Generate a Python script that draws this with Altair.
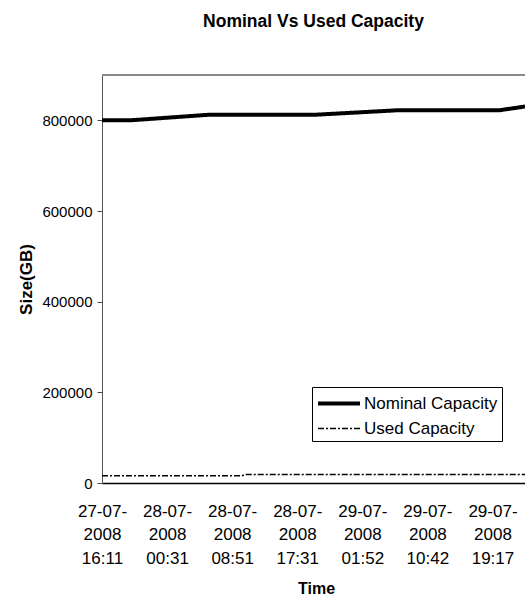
import json
import altair as alt
import pandas as pd

# x positions are category indices on the time axis (one labelled category every 10 points)
tick_index = [0, 10, 20, 30, 40, 50, 60]
tick_labels = [
    ["27-07-", "2008", "16:11"],
    ["28-07-", "2008", "00:31"],
    ["28-07-", "2008", "08:51"],
    ["28-07-", "2008", "17:31"],
    ["29-07-", "2008", "01:52"],
    ["29-07-", "2008", "10:42"],
    ["29-07-", "2008", "19:17"],
]

nominal_index = [0, 4.3, 16.6, 33, 45.8, 61.2, 65]
nominal_values = [800000, 800000, 812500, 812500, 822500, 822500, 830500]

used_index = [0, 21.5, 22, 65]
used_values = [16000, 16000, 19000, 19000]

series_names = ["Nominal Capacity", "Used Capacity"]

rows = []
for i, v in zip(nominal_index, nominal_values):
    rows.append({"idx": i, "size": v, "series": series_names[0]})
for i, v in zip(used_index, used_values):
    rows.append({"idx": i, "size": v, "series": series_names[1]})
df = pd.DataFrame(rows)

W, H = 423, 408
FONT = "Liberation Sans"

label_expr = json.dumps(tick_labels) + "[round(datum.value / 10)]"

legend_opts = dict(
    title=None,
    orient="none",
    legendX=210,
    legendY=312,
    strokeColor="black",
    padding=4,
    symbolType="M-1,0L3,0",
    symbolSize=441,
    symbolStrokeColor="black",
    labelOffset=23,
    labelFontSize=17,
    labelFont=FONT,
    labelColor="black",
    rowPadding=5,
    fillColor="white",
)

lines = alt.Chart(df).mark_line(color="black", clip=True).encode(
    x=alt.X(
        "idx:Q",
        scale=alt.Scale(domain=[0, 65], nice=False, zero=False),
        axis=alt.Axis(
            values=tick_index,
            labelExpr=label_expr,
            labelFlush=False,
            labelOverlap=False,
            labelAlign="center",
            grid=False,
            ticks=False,
            tickSize=0,
            labelPadding=20,
            labelFontSize=17,
            labelLineHeight=23.5,
            labelColor="black",
            labelFont=FONT,
            domainColor="black",
            domainWidth=1.5,
            title="Time",
            titleFont=FONT,
            titleFontSize=16,
            titleFontWeight="bold",
            titleColor="black",
            titleX=214,
            titleY=105,
            titleBaseline="middle",
        ),
    ),
    y=alt.Y(
        "size:Q",
        scale=alt.Scale(domain=[0, 900000], nice=False),
        axis=alt.Axis(
            values=[0, 200000, 400000, 600000, 800000],
            format="d",
            grid=False,
            tickSize=5,
            tickColor="#444444",
            labelPadding=5,
            labelFontSize=15,
            labelColor="black",
            labelFont=FONT,
            domainColor="#555555",
            title="Size(GB)",
            titleFont=FONT,
            titleFontSize=17,
            titleFontWeight="bold",
            titleColor="black",
            titleX=-76,
            titleY=H / 2,
            titleBaseline="middle",
        ),
    ),
    strokeDash=alt.StrokeDash(
        "series:N",
        scale=alt.Scale(domain=series_names, range=[[1, 0], [6, 2, 2, 2]]),
        legend=alt.Legend(**legend_opts),
    ),
    strokeWidth=alt.StrokeWidth(
        "series:N",
        scale=alt.Scale(domain=series_names, range=[4, 1.5]),
        legend=alt.Legend(**legend_opts),
    ),
)

top_border = alt.Chart(df).mark_rule(color="#888888", strokeWidth=1).encode(
    x=alt.value(0), x2=alt.value(W), y=alt.value(0)
)

chart = alt.layer(lines, top_border).properties(
    width=W,
    height=H,
    autosize="none",
    padding={"left": 102, "top": 75, "right": 0, "bottom": 113},
    title=alt.TitleParams(
        "Nominal Vs Used Capacity",
        font=FONT,
        fontSize=17.5,
        fontWeight="bold",
        color="black",
        anchor="middle",
        frame="group",
        baseline="middle",
        offset=35,
    ),
).configure_view(stroke=None).configure(background="white")

chart.save("out.html", embed_options={"renderer": "svg", "actions": False})
